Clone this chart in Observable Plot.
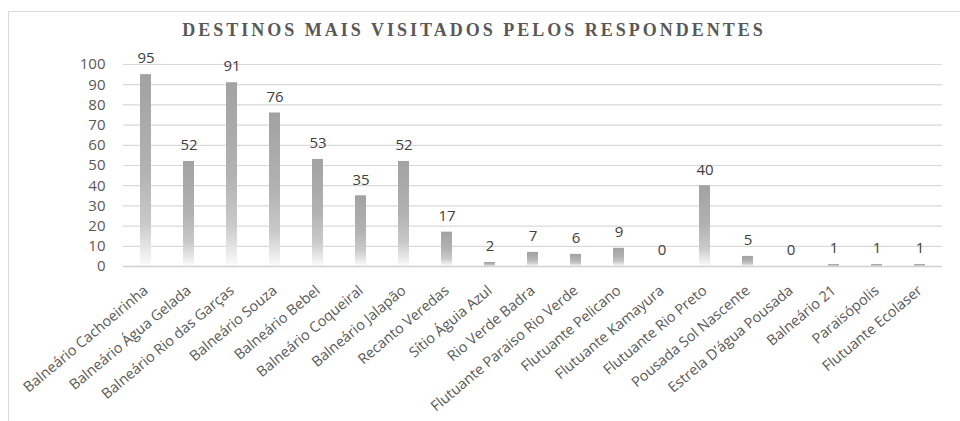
<!DOCTYPE html>
<html>
<head>
<meta charset="utf-8">
<script src="https://cdn.jsdelivr.net/npm/d3@7"></script>
<script src="https://cdn.jsdelivr.net/npm/@observablehq/plot@0.6"></script>
<style>
  html, body { margin: 0; padding: 0; background: #fff; overflow: hidden; }
  #wrap { position: relative; width: 960px; height: 421px; overflow: hidden; }
  #frame { position: absolute; left: 8px; top: 11px; width: 1000px; height: 500px; border: 1px solid #d9d9d9; box-sizing: border-box; }
  #chart { position: absolute; left: 0; top: 0; }
  .ttl text { letter-spacing: 3px; }
</style>
</head>
<body>
<div id="wrap"><div id="frame"></div><div id="chart"></div></div>
<script>
const categories = [
  "Balneário Cachoeirinha", "Balneário Água Gelada", "Balneário Rio das Garças",
  "Balneário Souza", "Balneário Bebel", "Balneário Coqueiral", "Balneário Jalapão",
  "Recanto Veredas", "Sítio Águia Azul", "Rio Verde Badra", "Flutuante Paraiso Rio Verde",
  "Flutuante Pelicano", "Flutuante Kamayura", "Flutuante Rio Preto", "Pousada Sol Nascente",
  "Estrela D’água Pousada", "Balneário 21", "Paraisópolis", "Flutuante Ecolaser"
];
const values = [95, 52, 91, 76, 53, 35, 52, 17, 2, 7, 6, 9, 0, 40, 5, 0, 1, 1, 1];
const yTicks = [0, 10, 20, 30, 40, 50, 60, 70, 80, 90, 100];
const title = "DESTINOS MAIS VISITADOS PELOS RESPONDENTES";

const data = categories.map((c, i) => ({name: c, value: values[i]}));

const defs = () => {
  const g = d3.create("svg:defs");
  const lg = g.append("linearGradient").attr("id", "barGrad")
    .attr("x1", 0).attr("y1", 0).attr("x2", 0).attr("y2", 1);
  lg.append("stop").attr("offset", "0").attr("stop-color", "#a2a2a2");
  lg.append("stop").attr("offset", "0.5").attr("stop-color", "#b2b2b2");
  lg.append("stop").attr("offset", "0.78").attr("stop-color", "#cacaca");
  lg.append("stop").attr("offset", "1").attr("stop-color", "#fbfbfb");
  return g.node();
};

const chart = Plot.plot({
  width: 960,
  height: 421,
  marginLeft: 123,
  marginRight: 18,
  marginTop: 64,
  marginBottom: 155,
  style: {fontFamily: "'Open Sans', sans-serif", background: "transparent"},
  x: {domain: categories, paddingInner: 0.74, paddingOuter: 0.37, label: null},
  y: {domain: [0, 100], label: null},
  marks: [
    defs,
    Plot.ruleY(yTicks.filter(d => d > 0), {stroke: "#d9d9d9", strokeWidth: 1.2}),
    Plot.barY(data, {x: "name", y: "value", fill: "url(#barGrad)"}),
    Plot.ruleY([0], {stroke: "#d0d0d0", strokeWidth: 1.4}),
    Plot.text(data, {x: "name", y: "value", text: d => String(d.value), dy: -16, fill: "#404040", fontSize: 15}),
    Plot.axisY({ticks: yTicks, tickSize: 0, tickPadding: 18, fontSize: 15, color: "#595959", label: null}),
    Plot.axisX({tickSize: 0, tickRotate: -40, tickPadding: 22, fontSize: 14.5, color: "#595959", label: null}),
    Plot.text([title], {frameAnchor: "top", dx: -59, dy: -41, fontFamily: "'Liberation Serif', serif", fontWeight: "bold", fontSize: 18, fill: "#595959", className: "ttl"})
  ]
});
document.getElementById("chart").appendChild(chart);
</script>
</body>
</html>
